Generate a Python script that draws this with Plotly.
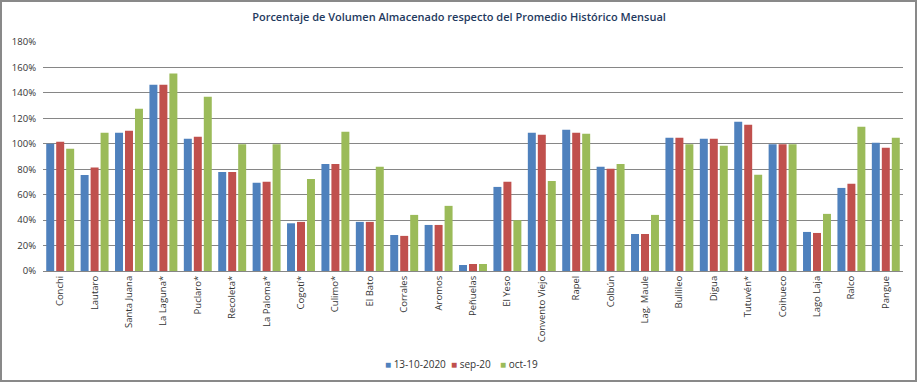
import plotly.graph_objects as go

categories = ["Conchi", "Lautaro", "Santa Juana", "La Laguna*", "Puclaro*", "Recoleta*",
              "La Paloma*", "Cogotí*", "Culimo*", "El Bato", "Corrales", "Aromos", "Peñuelas",
              "El Yeso", "Convento Viejo", "Rapel", "Colbún", "Lag. Maule", "Bullileo", "Digua",
              "Tutuvén*", "Coihueco", "Lago Laja", "Ralco", "Pangue"]

s_13oct2020 = [100, 75.5, 108.6, 146.4, 103.9, 77.9, 69.3, 37.5, 84.2, 38.6, 28.3, 36.2, 4.7,
               66.1, 108.6, 111.0, 81.9, 29.1, 104.7, 103.9, 117.3, 99.7, 30.7, 65.3, 100.8]
s_sep20 = [101.5, 81.3, 110.2, 146.4, 105.5, 77.9, 70.1, 38.6, 84.2, 38.6, 27.6, 36.2, 5.5,
           70.1, 107.1, 108.6, 80.3, 29.1, 104.7, 103.9, 114.9, 99.7, 29.9, 68.5, 96.8]
s_oct19 = [96.0, 108.6, 127.5, 155.3, 137.0, 99.7, 99.7, 72.4, 109.4, 81.9, 44.1, 51.2, 5.5,
           39.9, 70.8, 107.8, 84.2, 44.1, 99.7, 98.4, 75.6, 99.7, 44.9, 113.4, 104.7]

series_names = ["13-10-2020", "sep-20", "oct-19"]
colors = ["#4F81BD", "#C0504D", "#9BBB59"]
y_ticks = [0, 20, 40, 60, 80, 100, 120, 140, 160, 180]

W, H = 918, 384
L, R, T, B = 43, 15, 42, 113
PW, PH = W - L - R, H - T - B

fig = go.Figure()
for name, vals, col in zip(series_names, [s_13oct2020, s_sep20, s_oct19], colors):
    fig.add_trace(go.Bar(x=categories, y=[v / 100 for v in vals], name=name,
                         marker=dict(color=col, line=dict(width=0)), showlegend=False))

font_family = "Open Sans, Liberation Sans, sans-serif"

# legend drawn as text annotations (square glyph + label)
legend_x = [383, 449, 498]
annotations = []
for name, col, lx in zip(series_names, colors, legend_x):
    annotations.append(dict(text=f"<span style='color:{col}'>■</span> {name}",
                            xref="paper", yref="paper",
                            x=(lx - L) / PW, y=(H - B - 364) / PH,
                            xanchor="left", yanchor="middle", showarrow=False,
                            font=dict(size=10, color="#333333", family=font_family)))

fig.update_layout(
    width=W, height=H,
    margin=dict(l=L, r=R, t=T, b=B, autoexpand=False),
    paper_bgcolor="white", plot_bgcolor="white",
    barmode="group", bargap=0.13, bargroupgap=0.2,
    font=dict(family=font_family, size=10, color="#333333"),
    title=dict(text="Porcentaje de Volumen Almacenado respecto del Promedio Histórico Mensual",
               x=0.5, xref="container", xanchor="center",
               y=1 - 17 / H, yref="container", yanchor="middle",
               font=dict(family=font_family, size=11, weight=600, color="#1F3A60")),
    showlegend=False,
    annotations=annotations,
    xaxis=dict(tickangle=-90, showgrid=False, showline=True, linecolor="#868686", linewidth=1,
               ticks="", tickfont=dict(size=9.5, color="#333333"), fixedrange=True,
               automargin=False),
    yaxis=dict(range=[0, 1.8], tickvals=[t / 100 for t in y_ticks],
               ticktext=[f"{t}%" for t in y_ticks],
               showgrid=True, gridcolor="#868686", gridwidth=1, showline=False, zeroline=False,
               tickfont=dict(size=9.5, color="#333333"), ticks="", ticklabelstandoff=6,
               automargin=False),
    shapes=[dict(type="rect", xref="paper", yref="paper",
                 x0=(1 - L) / PW, x1=(916 - L) / PW,
                 y0=(H - B - 381) / PH, y1=(H - B - 1) / PH,
                 line=dict(color="#898989", width=2), fillcolor="rgba(0,0,0,0)", layer="below")],
)

fig.write_html("out.html", config={"displayModeBar": False, "staticPlot": True},
               post_script="document.body.style.margin='0';document.body.style.overflow='hidden';")
